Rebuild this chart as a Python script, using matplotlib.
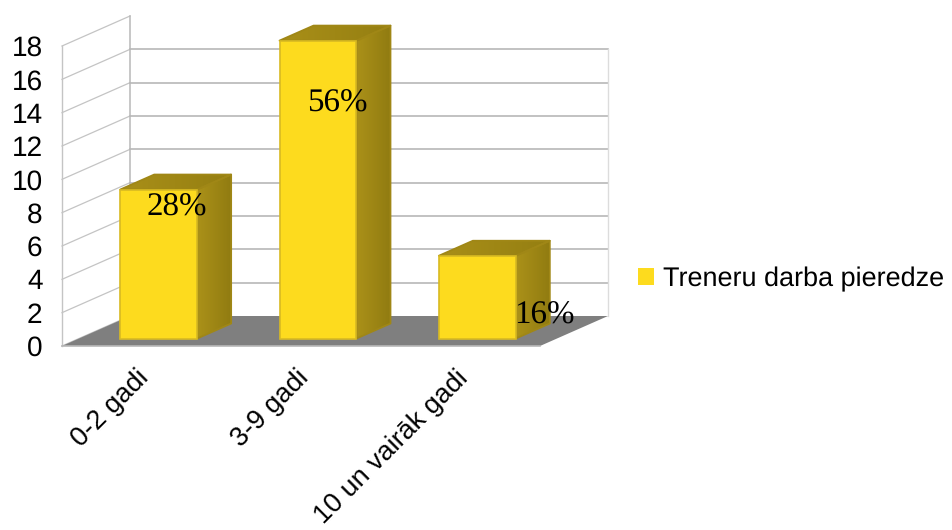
import numpy as np
import matplotlib
matplotlib.use('Agg')
import matplotlib.pyplot as plt
from matplotlib.patches import Polygon, Patch
from matplotlib.transforms import ScaledTranslation

plt.rcParams['font.family'] = ['Liberation Sans', 'DejaVu Sans']
plt.rcParams['text.hinting'] = 'no_hinting'
plt.rcParams['text.hinting_factor'] = 1

# data
categories = ['0-2 gadi', '3-9 gadi', '10 un vairāk gadi']
values = [9, 18, 5]
percent_labels = ['28%', '56%', '16%']
series_name = 'Treneru darba pieredze'
y_ticks = list(range(0, 20, 2))

# 3D look, in axis units (x = categories, y = value)
W, H = 952, 530
left, right, bottom, top = 62, 540, 346, 46
DX = 68 / ((right - left) / 3)   # depth of the box
DY = 30 / ((bottom - top) / 18)
BAR_W = 0.483
BAR_DEPTH = 0.5
BAR_POS = 0.25   # where the bar sits inside the depth
BAR_SCALE = 0.993

YELLOW = '#fddb1e'
EDGE = '#d8ba22'
GRID = '#b8b8b8'

fig = plt.figure(figsize=(W / 100, H / 100), dpi=100)
ax = fig.add_axes([left / W, 1 - bottom / H, (right - left) / W, (bottom - top) / H])
ax.set_xlim(0, 3)
ax.set_ylim(0, 18)
for s in ax.spines.values():
    s.set_visible(False)
ax.patch.set_visible(False)


def gradient(pts, c1, c2, z):
    # polygon filled with a left to right gradient, soft rounded outline
    pts = np.array(pts)
    poly = Polygon(pts, closed=True, fc='none', ec='#a08716', lw=1.3, joinstyle='round',
                   zorder=z + 0.1, clip_on=False)
    ax.add_patch(poly)
    img = np.linspace(0, 1, 64).reshape(1, -1)
    cmap = matplotlib.colors.LinearSegmentedColormap.from_list('g', [c1, c2])
    im = ax.imshow(img, cmap=cmap, aspect='auto', zorder=z, interpolation='bilinear',
                   extent=[pts[:, 0].min(), pts[:, 0].max(), pts[:, 1].min(), pts[:, 1].max()])
    im.set_clip_box(fig.bbox)
    im.set_clip_path(poly)


# walls and grid
for v in y_ticks:
    ax.plot([0, DX], [v, v + DY], color='#c4c4c4', lw=0.9, zorder=1, clip_on=False)
    if 0 < v < 18:
        ax.plot([DX, 3 + DX], [v + DY, v + DY], color=GRID, lw=1.2, zorder=1, clip_on=False)
ax.plot([0, 0], [0, 18], color='#c4c4c4', lw=1, zorder=1, clip_on=False)
ax.plot([DX, DX], [DY, 18 + DY], color=GRID, lw=1.1, zorder=1, clip_on=False)
ax.plot([3 + DX, 3 + DX], [DY, 16 + DY], color='#dcdcdc', lw=1, zorder=1, clip_on=False)

# floor
ax.add_patch(Polygon([(0, 0), (DX, DY), (3 + DX, DY), (3, 0)], closed=True, fc='#7f7f7f',
                     ec='none', zorder=2, clip_on=False))
ax.plot([0, 3], [0, 0], color=GRID, lw=1.2, zorder=2, clip_on=False)

# bars
for i, v in enumerate(values):
    x0 = i + 0.5 - BAR_W / 2 + DX * BAR_POS
    x1 = x0 + BAR_W
    y0 = DY * BAR_POS
    y1 = y0 + v * BAR_SCALE
    ox = DX * BAR_DEPTH
    oy = DY * BAR_DEPTH
    z = 3 + i
    gradient([(x1, y0), (x1 + ox, y0 + oy), (x1 + ox, y1 + oy), (x1, y1)], '#ab9119', '#917c11', z)
    gradient([(x0, y1), (x0 + ox, y1 + oy), (x1 + ox, y1 + oy), (x1, y1)], '#a98f18', '#957f12', z)
    ax.add_patch(Polygon([(x0, y0), (x1, y0), (x1, y1), (x0, y1)], closed=True, fc=YELLOW,
                         ec=EDGE, lw=1.2, zorder=z + 0.5, clip_on=False))

ax.set_xlim(0, 3)
ax.set_ylim(0, 18)

# data labels, placed by hand like in the original
label_pos = [(0.72, 8.3), (1.73, 14.55), (3.03, 1.8)]
for (lx, ly), t in zip(label_pos, percent_labels):
    ax.text(lx, ly, t, ha='center', va='center', fontsize=23.5, color='black',
            family='Liberation Serif', zorder=10)

# ticks
ax.set_yticks(y_ticks)
ax.tick_params(axis='y', length=0, pad=14, labelsize=20)
ax.set_xticks([0.5, 1.5, 2.5])
ax.set_xticklabels(categories, rotation=45, ha='right', va='top', rotation_mode='anchor',
                   fontsize=19.6)
ax.tick_params(axis='x', length=0, pad=14)
shift = ScaledTranslation(-5 / 100, 0, fig.dpi_scale_trans)
for lab in ax.get_xticklabels():
    lab.set_transform(lab.get_transform() + shift)

ax.legend(handles=[Patch(fc=YELLOW, ec='none', label=series_name)], loc='center left',
          bbox_to_anchor=(638 / W, 1 - 279 / H), bbox_transform=fig.transFigure, frameon=False,
          fontsize=19.7, handlelength=0.59, handleheight=0.59, handletextpad=0.33,
          borderpad=0, borderaxespad=0)

fig.savefig('out.png', dpi=100)
